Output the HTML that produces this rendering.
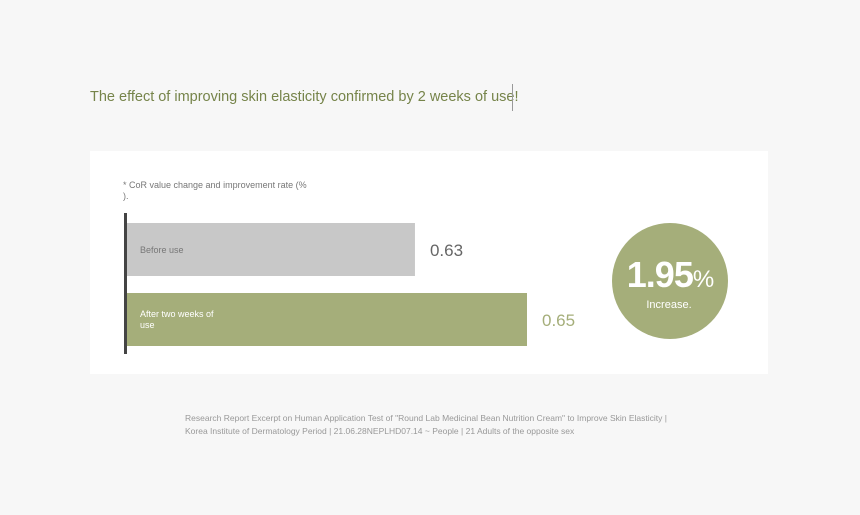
<!DOCTYPE html>
<html><head><meta charset="utf-8"><style>
body{margin:0;width:860px;height:515px;background:#f7f7f7;font-family:"Liberation Sans",sans-serif;position:relative;overflow:hidden}
.abs{position:absolute}
</style></head><body>
<div class="abs" style="left:90px;top:89px;font-size:14.5px;color:#76844a;white-space:nowrap">The effect of improving skin elasticity confirmed by 2 weeks of use!</div>
<div class="abs" style="left:512px;top:84px;width:1px;height:27px;background:#999"></div>
<div class="abs" style="left:90px;top:151px;width:678px;height:223px;background:#fff"></div>
<div class="abs" style="left:123px;top:180px;font-size:9px;line-height:11px;color:#777;width:195px">* CoR value change and improvement rate (%<br>).</div>
<svg class="abs" style="left:0;top:0" width="860" height="515">
<g id="bars"></g>
<line x1="125.5" y1="213" x2="125.5" y2="354" stroke="#444" stroke-width="3"/>
<circle cx="670" cy="281" r="58" fill="#a5ae7a"/>
<text x="670" y="287" text-anchor="middle" fill="#fff" font-size="36" font-weight="bold" letter-spacing="-1">1.95<tspan font-size="24" font-weight="normal">%</tspan></text>
<text x="669" y="308" text-anchor="middle" fill="#fff" font-size="11">Increase.</text>
</svg>
<div class="abs" style="left:185px;top:412px;width:490px;font-size:8.5px;line-height:13px;color:#999">Research Report Excerpt on Human Application Test of "Round Lab Medicinal Bean Nutrition Cream" to Improve Skin Elasticity | Korea Institute of Dermatology Period | 21.06.28NEPLHD07.14 ~ People | 21 Adults of the opposite sex</div>
<script>
const categories=["Before use","After two weeks of use"];
const values=[0.63,0.65];
const valueLabels=["0.63","0.65"];
const NS="http://www.w3.org/2000/svg";
const x0=127, xDomain=[0.5786,0.65], xRange=[0,400];
function xs(v){return xRange[0]+(v-xDomain[0])/(xDomain[1]-xDomain[0])*(xRange[1]-xRange[0]);}
const bandTop=223, bandStep=70, barH=53;
function ys(i){return bandTop+i*bandStep;}
const fills=["#c8c8c8","#a5ae7a"], valCol=["#666","#a5ae7a"], labCol=["#777","#fff"];
const g=document.getElementById('bars');
categories.forEach((c,i)=>{
  const w=xs(values[i]);
  const r=document.createElementNS(NS,'rect');
  
  
  r.setAttribute('x',x0);r.setAttribute('y',ys(i));r.setAttribute('width',w);r.setAttribute('height',barH);r.setAttribute('fill',fills[i]);
  g.appendChild(r);
  const t=document.createElementNS(NS,'text');
  
  
  t.setAttribute('x',140);t.setAttribute('fill',labCol[i]);t.setAttribute('font-size','9');
  const words=c.length>15?["After two weeks of","use"]:[c];
  const baseY=words.length>1?ys(i)+24:ys(i)+30;
  words.forEach((wd,k)=>{const s=document.createElementNS(NS,'tspan');s.setAttribute('x',140);s.setAttribute('y',baseY+k*11);s.textContent=wd;t.appendChild(s);});
  g.appendChild(t);
  const v=document.createElementNS(NS,'text');
  
  
  v.setAttribute('x',x0+w+15);v.setAttribute('y',ys(i)+33);v.setAttribute('fill',valCol[i]);v.setAttribute('font-size','17');
  v.textContent=valueLabels[i];
  g.appendChild(v);
});
</script>
</body></html>
